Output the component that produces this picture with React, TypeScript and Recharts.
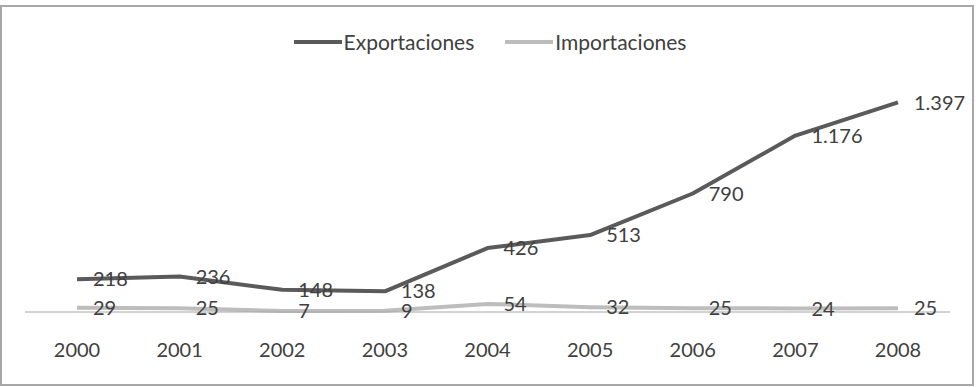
import { LineChart, Line, XAxis, YAxis, LabelList } from "recharts";

const years = ["2000", "2001", "2002", "2003", "2004", "2005", "2006", "2007", "2008"];
const exportaciones = [218, 236, 148, 138, 426, 513, 790, 1176, 1397];
const importaciones = [29, 25, 7, 9, 54, 32, 25, 24, 25];

const SERIES = [
  { key: "exportaciones", label: "Exportaciones", color: "#5a5a5a" },
  { key: "importaciones", label: "Importaciones", color: "#bdbdbd" },
] as const;

const FONT = "Lato, 'Open Sans', sans-serif";

// miles con punto, como en el original (1.397)
function fmt(v: number) {
  return String(v).replace(/\B(?=(\d{3})+(?!\d))/g, ".");
}

function LegendContent() {
  return (
    <div
      style={{
        position: "absolute",
        top: 29,
        left: 0,
        width: 976,
        display: "flex",
        justifyContent: "center",
        gap: 31,
        fontFamily: FONT,
        fontSize: 21,
        lineHeight: "26px",
        color: "#404040",
        paddingLeft: 4,
        boxSizing: "border-box",
      }}
    >
      {SERIES.map((s) => (
        <div key={s.key} style={{ display: "flex", alignItems: "center" }}>
          <span style={{ display: "inline-block", width: 48, height: 4, background: s.color, marginRight: 2 }} />
          <span>{s.label}</span>
        </div>
      ))}
    </div>
  );
}

export default function App() {
  const data = years.map((y, i) => ({
    year: y,
    exportaciones: exportaciones[i],
    importaciones: importaciones[i],
  }));

  return (
    <div style={{ position: "absolute", left: 0, top: 0, width: 976, height: 387, background: "#fff" }}>
      <div
        style={{
          position: "absolute",
          left: 0,
          top: 5,
          width: 974,
          height: 381,
          border: "2px solid #a8a8a8",
          boxSizing: "border-box",
        }}
      />
      <LineChart
        width={976}
        height={387}
        data={data}
        margin={{ top: 72, right: 26, left: 25, bottom: 0 }}
        style={{ position: "absolute", left: 0, top: 0 }}
      >
        <XAxis
          dataKey="year"
          height={75}
          padding={{ left: 52, right: 52 }}
          axisLine={{ stroke: "#a6a6a6", strokeWidth: 1 }}
          tickLine={false}
          tickSize={0}
          tickMargin={31}
          tick={{ fill: "#404040", fontSize: 20, fontFamily: FONT }}
          interval={0}
        />
        <YAxis hide domain={[0, 1600]} />
        {SERIES.map((s) => (
          <Line
            key={s.key}
            type="linear"
            dataKey={s.key}
            name={s.label}
            stroke={s.color}
            strokeWidth={4}
            strokeLinejoin="round"
            dot={false}
            activeDot={false}
            isAnimationActive={false}
          >
            <LabelList
              dataKey={s.key}
              position="right"
              offset={16}
              formatter={(v: number) => fmt(v)}
              style={{ fill: "#404040", fontSize: 20, fontFamily: FONT }}
            />
          </Line>
        ))}
      </LineChart>
      <LegendContent />
    </div>
  );
}
